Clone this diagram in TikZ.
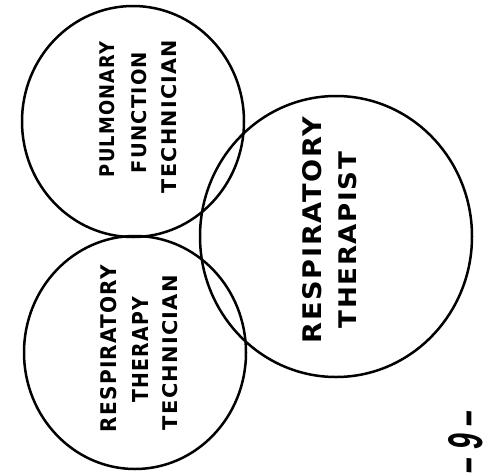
\documentclass[tikz,border=0pt]{standalone}
\usepackage{fontspec}
\usetikzlibrary{shapes.geometric}
\newfontfamily\labfont[LetterSpace=6]{DejaVu Sans}
\newfontfamily\handfont{Liberation Sans}
\tikzset{
  ring/.style={draw, ellipse, line width=2.5pt, inner sep=0pt},
  lab/.style={inner sep=0pt, rotate=90, anchor=center},
}
\newcommand{\lbl}[3]{\resizebox{#1pt}{#2pt}{\labfont\bfseries #3}}
\begin{document}
\begin{tikzpicture}[x=1pt,y=-1pt]
\useasboundingbox (0,0) rectangle (498,475);
% circles
\node[ring, minimum width=222pt, minimum height=231pt] (pft) at (133,121.5) {};
\node[ring, minimum width=222pt, minimum height=233pt] (rtt) at (135,352.5) {};
\node[ring, minimum width=272pt, minimum height=281pt] (rt) at (336,236.5) {};
% top circle text
\node[lab] (p1) at (107.5,109.5) {\lbl{135}{15}{PULMONARY}};
\node[lab] (p2) at (139.5,112.5) {\lbl{121}{15}{FUNCTION}};
\node[lab] (p3) at (169.5,116.5) {\lbl{153}{15}{TECHNICIAN}};
% bottom circle text
\node[lab] (b1) at (108.5,348.5) {\lbl{167}{16}{RESPIRATORY}};
\node[lab] (b2) at (140,349.5) {\lbl{105}{16}{THERAPY}};
\node[lab] (b3) at (170,352.5) {\lbl{155}{15}{TECHNICIAN}};
% big circle text
\node[lab] (r1) at (312.5,230) {\lbl{226}{19}{RESPIRATORY}};
\node[lab] (r2) at (348,240) {\lbl{176}{18}{THERAPIST}};
% page number
\node[lab] (pg) at (466,442) {\resizebox{63pt}{34pt}{\handfont\bfseries\itshape – 9 –}};
\end{tikzpicture}
\end{document}
